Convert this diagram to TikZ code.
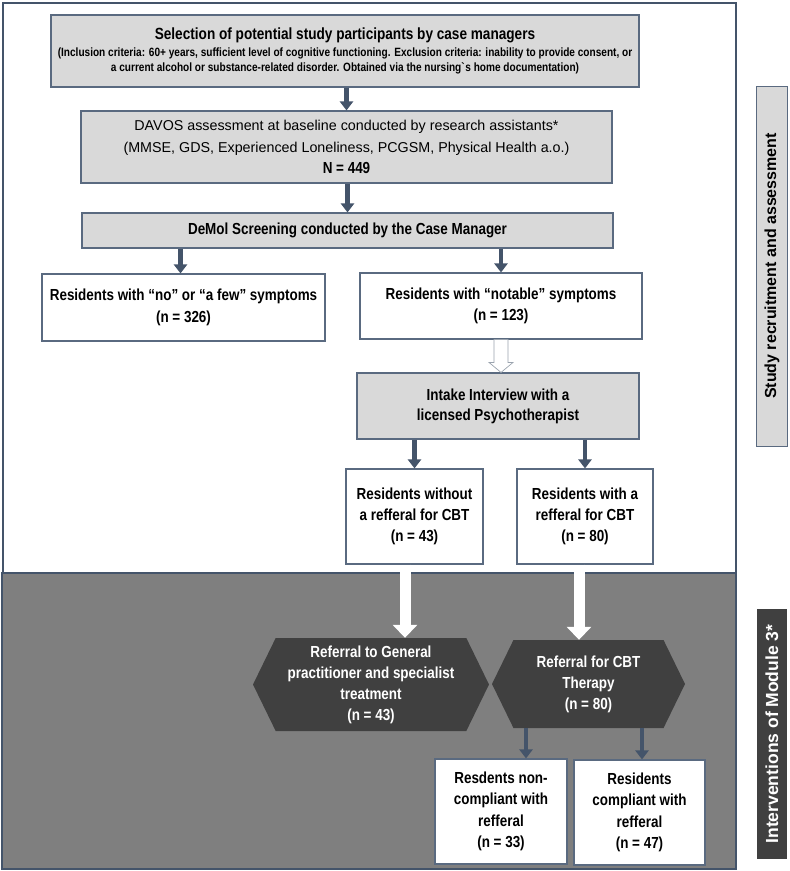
\documentclass[tikz,border=0pt]{standalone}
\usepackage{fontspec}
\setmainfont{Liberation Sans}
\newfontfamily\narrowfont[FakeStretch=0.84]{Liberation Sans}
\usetikzlibrary{arrows.meta,shapes.symbols}

\definecolor{slate}{HTML}{44546A}
\definecolor{boxline}{HTML}{5A6A80}
\definecolor{lightfill}{HTML}{D9D9D9}
\definecolor{midfill}{HTML}{7F7F7F}
\definecolor{darkfill}{HTML}{404040}
\definecolor{hollowline}{HTML}{9AA3AE}

\tikzset{
  stepbox/.style={draw=boxline,line width=1.1pt,fill=lightfill,align=center,inner sep=0pt,
    font=\narrowfont\bfseries\fontsize{16}{20}\selectfont},
  whitebox/.style={stepbox,fill=white,font=\narrowfont\bfseries\fontsize{16}{21.3}\selectfont},
  hexbox/.style={signal,signal to=west and east,signal from=nowhere,signal pointer angle=128,
    fill=darkfill,text=white,align=center,inner sep=0pt,
    font=\narrowfont\bfseries\fontsize{16}{21}\selectfont},
  flow/.style={draw=slate,line width=4.5pt,-{Triangle[width=13pt,length=9pt]}},
  bigflow/.style={draw=white,line width=11pt,-{Triangle[width=24pt,length=13pt]}},
  hollow/.style={draw=hollowline,line width=0.7pt,fill=white},
  frame/.style={draw=slate,line width=2.5pt},
  sidelabel/.style={rotate=90,inner sep=0pt,align=center,font=\bfseries\fontsize{16}{20}\selectfont}
}

\begin{document}
\begin{tikzpicture}[x=1pt,y=-1pt]
\useasboundingbox (0,0) rectangle (790,871);
% the two phases
\draw[frame,fill=white] (3,3) rectangle (736,573);
\draw[frame,fill=midfill] (2,573) rectangle (736,869);

% recruitment and assessment
\path
(345,51) node[stepbox,minimum width=588,minimum height=72,
  font=\narrowfont\bfseries\fontsize{12}{15}\selectfont](select){%
{\fontsize{16.2}{17}\selectfont Selection of potential study participants by case managers}\\[2pt]
(Inclusion criteria: 60+ years, sufficient level of cognitive functioning. Exclusion criteria: inability to provide consent, or\\
a current alcohol or substance-related disorder. Obtained via the nursing\textasciigrave s home documentation)}
(346.5,147) node[stepbox,minimum width=531,minimum height=72,
  font=\narrowfont\bfseries\fontsize{16}{21.5}\selectfont](davos){%
{\normalfont\fontsize{14.3}{21.5}\selectfont DAVOS assessment at baseline conducted by research assistants*}\\
{\normalfont\fontsize{14.3}{21.5}\selectfont (MMSE, GDS, Experienced Loneliness, PCGSM, Physical Health a.o.)}\\
N = 449}
(347.5,230.5) node[stepbox,minimum width=531,minimum height=35](demol){DeMol Screening conducted by the Case Manager}
(183.5,307.5) node[whitebox,minimum width=283,minimum height=67](few){Residents with “no” or “a few” symptoms\\(n = 326)}
(501,306) node[whitebox,minimum width=282,minimum height=66](notable){Residents with “notable” symptoms\\(n = 123)}
(498,406) node[stepbox,minimum width=282,minimum height=66](intake){Intake Interview with a\\licensed Psychotherapist}
(414.5,516.5) node[whitebox,minimum width=137,minimum height=95](without){Residents without\\a refferal for CBT\\(n = 43)}
(585,516.5) node[whitebox,minimum width=136,minimum height=95](with){Residents with a\\refferal for CBT\\(n = 80)};

% interventions
\path
(371,684.5) node[hexbox,minimum width=236,minimum height=93](gp){Referral to General\\practitioner and specialist\\treatment\\(n = 43)}
(588.5,684) node[hexbox,minimum width=193,minimum height=88](cbt){Referral for CBT\\Therapy\\(n = 80)}
(501,811.5) node[whitebox,minimum width=132,minimum height=105](noncomp){Resdents non-\\compliant with\\refferal\\(n = 33)}
(639.5,812.5) node[whitebox,minimum width=131,minimum height=105](comp){Residents\\compliant with\\refferal\\(n = 47)};

% side labels
\path
(772,266) node[sidelabel,draw=boxline,line width=0.8pt,fill=lightfill,minimum width=360,minimum height=31](phaseA){Study recruitment and assessment}
(772,734) node[sidelabel,fill=darkfill,text=white,minimum width=250,minimum height=30,
  font=\bfseries\fontsize{17.5}{20}\selectfont](phaseB){Interventions of Module 3*};

% arrows
\draw[flow] (davos.north |- select.south) -- (davos.north);
\draw[flow] (demol.north |- davos.south) -- (demol.north);
\draw[flow] ([xshift=-3pt]few.north |- demol.south) -- ([xshift=-3pt]few.north);
\draw[flow] (notable.north |- demol.south) -- (notable.north);
\coordinate (tip) at (notable.south |- intake.north);
\draw[hollow] ([xshift=-7pt]notable.south) -- ([xshift=-7pt,yshift=10pt]tip)
  -- ([xshift=-12pt,yshift=10pt]tip) -- (tip) -- ([xshift=12pt,yshift=10pt]tip)
  -- ([xshift=7pt,yshift=10pt]tip) -- ([xshift=7pt]notable.south) -- cycle;
\draw[flow] (without.north |- intake.south) -- (without.north);
\draw[flow] (with.north |- intake.south) -- (with.north);
\draw[bigflow] ([xshift=-9.5pt]without.south) -- ([xshift=-9.5pt]without.south |- gp.north);
\draw[bigflow] ([xshift=-6pt]with.south) -- ([xshift=-6pt]with.south |- cbt.north);
\draw[flow] ([xshift=25pt]noncomp.north |- cbt.south) -- ([xshift=25pt]noncomp.north);
\draw[flow] ([xshift=2.5pt]comp.north |- cbt.south) -- ([xshift=2.5pt]comp.north);
\end{tikzpicture}
\end{document}
